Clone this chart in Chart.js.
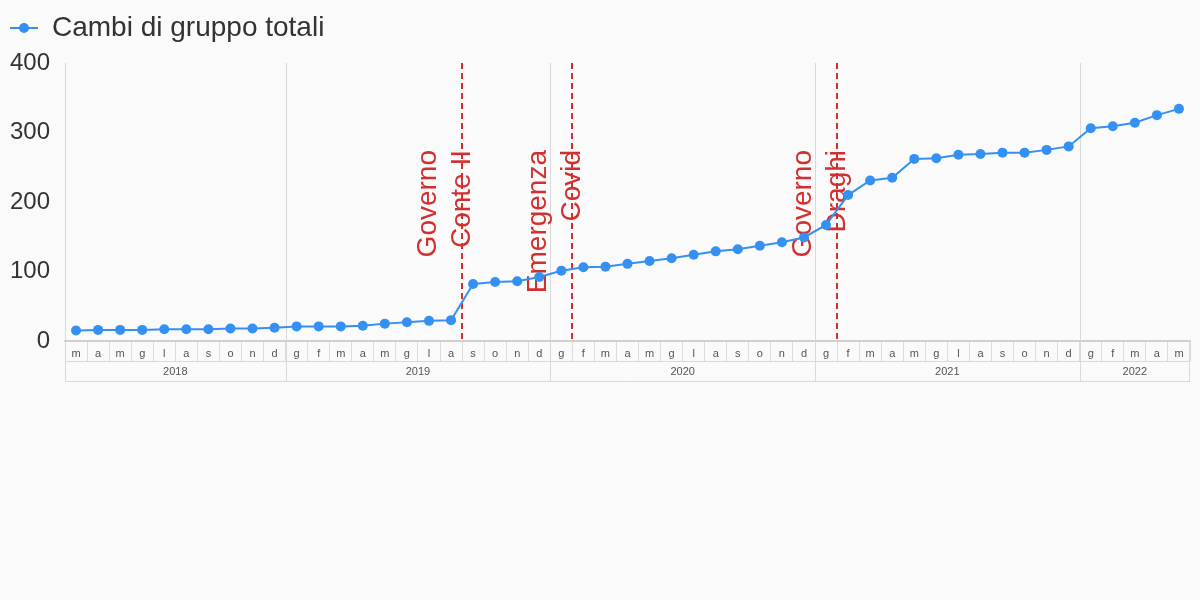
<!DOCTYPE html>
<html><head><meta charset="utf-8">
<script src="https://cdn.jsdelivr.net/npm/chart.js@4.4.0/dist/chart.umd.min.js"></script>
<style>html,body{margin:0;padding:0;background:#fafafa;} #wrap{width:1200px;height:600px;}</style>
</head><body><div id="wrap"><canvas id="c" width="1200" height="600"></canvas></div>
<script>
const seriesName = 'Cambi di gruppo totali';
const monthLabels = [
  'm','a','m','g','l','a','s','o','n','d',
  'g','f','m','a','m','g','l','a','s','o','n','d',
  'g','f','m','a','m','g','l','a','s','o','n','d',
  'g','f','m','a','m','g','l','a','s','o','n','d',
  'g','f','m','a','m'
];
const years = ['2018','2019','2020','2021','2022'];
const monthsPerYear = [10, 12, 12, 12, 5];
const values = [
  15,16,16,16,17,17,17,18,18,19,
  21,21,21,22,25,27,29,30,82,85,86,92,
  101,106,107,111,115,119,124,129,132,137,142,149,
  167,210,231,235,262,263,268,269,271,271,275,280,
  306,309,314,325,334
];
const eventLabels = [['Governo','Conte II'], ['Emergenza','Covid'], ['Governo','Draghi']];
const eventMonthIndex = [18, 23, 35];
const yTicks = [0, 100, 200, 300, 400];

const BLUE = '#3590f3';
const RED = '#d32f2f';
const FONT = '"Liberation Sans", Arial, sans-serif';

const legendIcon = document.createElement('canvas');
legendIcon.width = 28; legendIcon.height = 12;
(function(){
  const g = legendIcon.getContext('2d');
  g.strokeStyle = BLUE; g.lineWidth = 2;
  g.beginPath(); g.moveTo(0, 6); g.lineTo(28, 6); g.stroke();
  g.fillStyle = BLUE; g.beginPath(); g.arc(14, 6, 5, 0, Math.PI * 2); g.fill();
})();

const legendGap = {
  id: 'legendGap',
  beforeLayout(chart) {
    const lg = chart.legend;
    if (lg && !lg._gapPatched) {
      const f = lg.fit.bind(lg);
      lg.fit = function() { f(); this.height += 11; };
      lg._gapPatched = true;
    }
  }
};

const overlay = {
  id: 'overlay',
  beforeDatasetsDraw(chart) {
    const {ctx, chartArea, scales: {x}} = chart;
    ctx.save();
    ctx.strokeStyle = '#d9d9d9'; ctx.lineWidth = 1;
    let start = 0;
    for (let i = 0; i < monthsPerYear.length - 1; i++) {
      start += monthsPerYear[i];
      const px = Math.round(x.getPixelForValue(start - 0.5)) + 0.5;
      ctx.beginPath(); ctx.moveTo(px, chartArea.top); ctx.lineTo(px, x.bottom); ctx.stroke();
    }
    ctx.strokeStyle = RED; ctx.lineWidth = 2; ctx.setLineDash([6, 4]);
    eventMonthIndex.forEach(idx => {
      const px = Math.round(x.getPixelForValue(idx - 0.5));
      ctx.beginPath(); ctx.moveTo(px, chartArea.top); ctx.lineTo(px, chartArea.bottom); ctx.stroke();
    });
    ctx.setLineDash([]);
    ctx.fillStyle = RED; ctx.font = '28px ' + FONT;
    ctx.textAlign = 'right'; ctx.textBaseline = 'middle';
    eventMonthIndex.forEach((idx, k) => {
      const px = x.getPixelForValue(idx - 0.5);
      ctx.save();
      ctx.translate(px, chartArea.top + 87);
      ctx.rotate(-Math.PI / 2);
      ctx.fillText(eventLabels[k][0], 0, -34);
      ctx.fillText(eventLabels[k][1], 0, 0);
      ctx.restore();
    });
    ctx.restore();
  },
  afterDraw(chart) {
    const {ctx, scales: {x}} = chart;
    ctx.save();
    ctx.strokeStyle = '#d9d9d9'; ctx.lineWidth = 1;
    const l = x.left, r = x.right;
    const midY = x.top + 20.5, botY = x.bottom - 0.5;
    ctx.beginPath();
    ctx.moveTo(l, midY); ctx.lineTo(r, midY);
    ctx.moveTo(l, botY); ctx.lineTo(r, botY);
    const lx = Math.round(l) + 0.5, rx = Math.round(r) - 0.5;
    ctx.moveTo(lx, x.top); ctx.lineTo(lx, x.bottom);
    ctx.moveTo(rx, x.top); ctx.lineTo(rx, x.bottom);
    ctx.stroke();
    ctx.fillStyle = '#555'; ctx.font = '11px ' + FONT;
    ctx.textAlign = 'center'; ctx.textBaseline = 'middle';
    let start = 0;
    years.forEach((yr, i) => {
      const a = x.getPixelForValue(start - 0.5);
      const b = x.getPixelForValue(start + monthsPerYear[i] - 0.5);
      ctx.fillText(yr, (a + b) / 2, x.top + 30.5);
      start += monthsPerYear[i];
    });
    ctx.restore();
  }
};

new Chart(document.getElementById('c'), {
  type: 'line',
  data: {
    labels: monthLabels,
    datasets: [{
      label: seriesName,
      data: values,
      borderColor: BLUE,
      backgroundColor: BLUE,
      borderWidth: 2,
      pointRadius: 5,
      pointHoverRadius: 5,
      pointBorderWidth: 0,
      tension: 0,
      fill: false
    }]
  },
  options: {
    responsive: false,
    animation: false,
    layout: {padding: {left: 0, right: 10, top: 4, bottom: 218}},
    plugins: {
      tooltip: {enabled: false},
      legend: {
        align: 'start',
        labels: {
          usePointStyle: true,
          pointStyleWidth: 28,
          color: '#333',
          font: {family: FONT, size: 28},
          padding: 10,
          generateLabels: () => [{
            text: seriesName, pointStyle: legendIcon, fillStyle: BLUE,
            strokeStyle: BLUE, lineWidth: 0, hidden: false, datasetIndex: 0, fontColor: '#333'
          }]
        }
      }
    },
    scales: {
      x: {
        type: 'category',
        offset: true,
        grid: {display: true, drawOnChartArea: false, drawTicks: true, tickLength: 20, offset: true, color: '#dcdcdc', lineWidth: 1},
        border: {display: true, color: '#d0d0d0', width: 2},
        ticks: {autoSkip: false, maxRotation: 0, color: '#555', font: {family: FONT, size: 11}, padding: -14},
        afterFit(s) { s.height = 41; }
      },
      y: {
        min: 0, max: 400,
        afterBuildTicks(s) { s.ticks = yTicks.map(v => ({value: v})); },
        grid: {display: true, drawOnChartArea: false, drawTicks: false},
        border: {display: true, color: '#d9d9d9', width: 1},
        ticks: {color: '#333', font: {family: FONT, size: 24}, padding: 15},
        afterFit(s) { s.width = 65; }
      }
    }
  },
  plugins: [legendGap, overlay]
});
</script>
</body></html>
